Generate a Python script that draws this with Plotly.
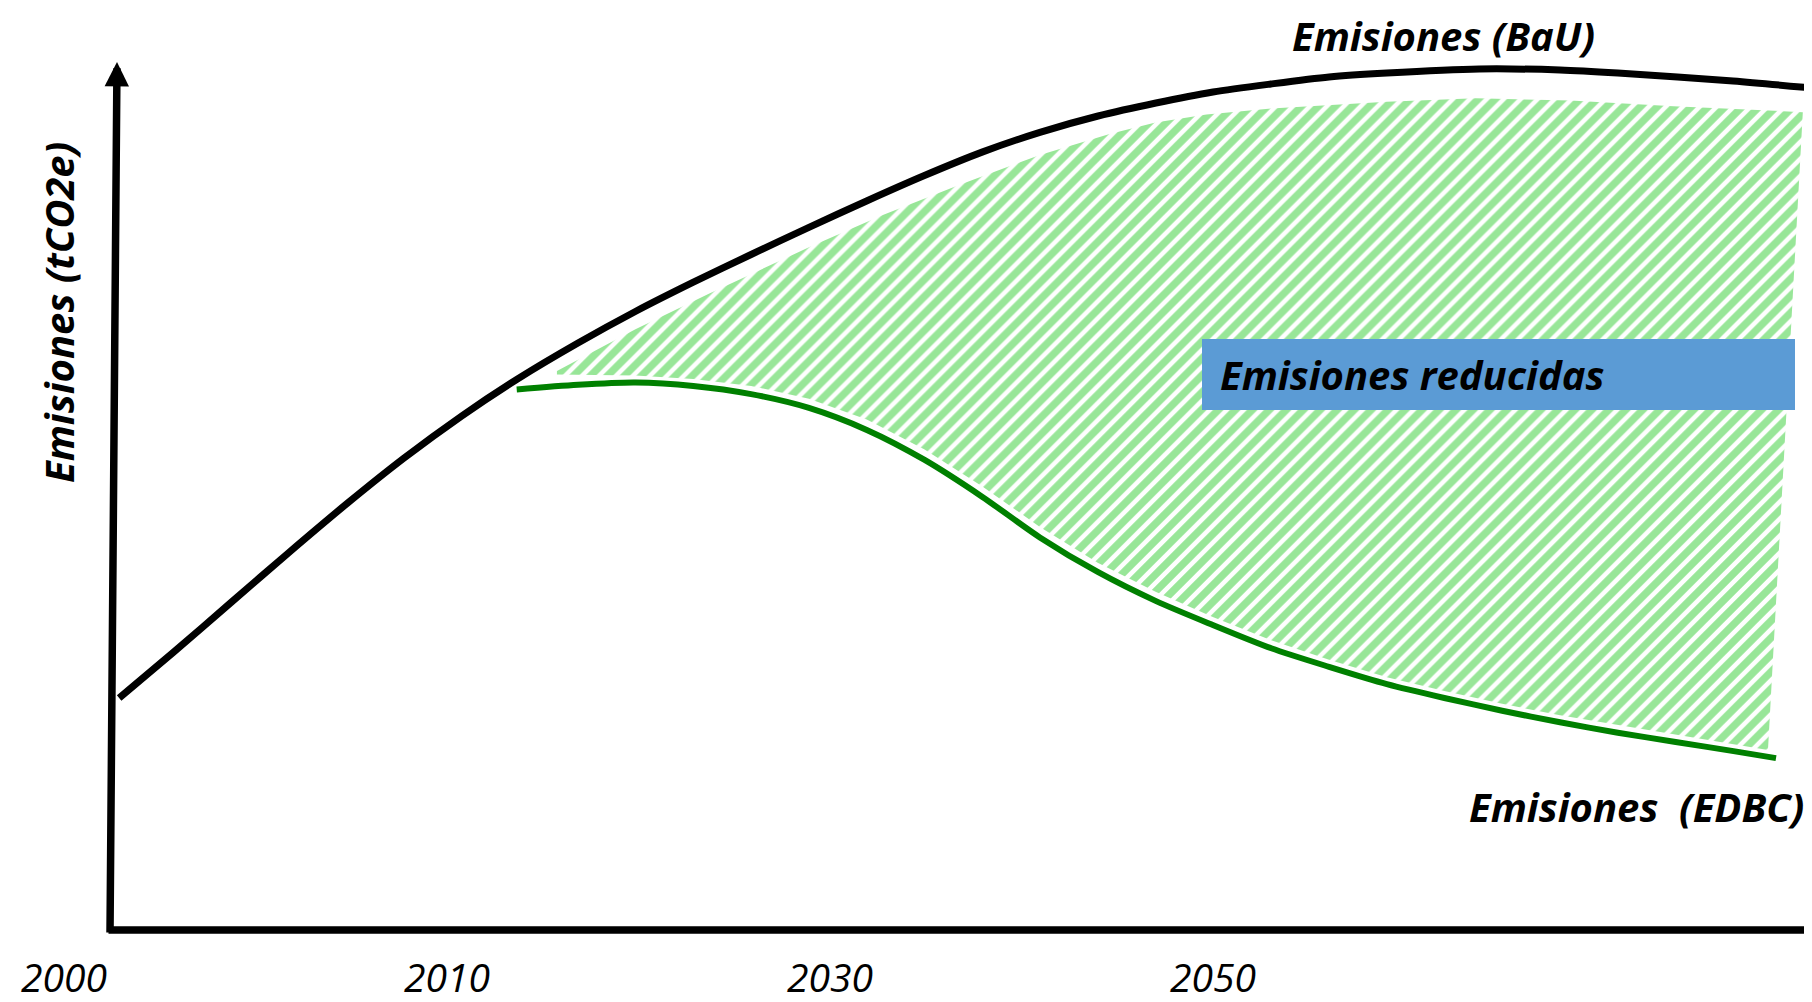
import plotly.graph_objects as go

# ---------------- data (chart units) ----------------
# time axis position: 0 = 2000, 1 = 2010, 2 = 2030, 3 = 2050 (as labelled)
tick_pos = [0, 1, 2, 3]
tick_labels = ["2000", "2010", "2030", "2050"]

# Emissions, Business as usual (BaU)
bau_t = [0.144, 0.285, 0.436, 0.587, 0.739, 0.888, 1.039, 1.183, 1.342, 1.493, 1.642,
         1.794, 1.945, 2.097, 2.245, 2.397, 2.548, 2.700, 2.851, 3.000, 3.151, 3.303,
         3.454, 3.695, 3.906, 4.057, 4.358, 4.590]
bau_e = [26.98, 32.27, 38.08, 43.89, 49.59, 54.88, 59.79, 64.04, 68.25, 71.95, 75.30,
         78.55, 81.70, 84.80, 87.70, 90.45, 92.75, 94.65, 96.16, 97.44, 98.37, 99.19,
         99.65, 100.12, 100.00, 99.65, 98.72, 97.79]

# Emissions, EDBC scenario
edbc_t = [1.182, 1.342, 1.492, 1.643, 1.794, 1.945, 2.096, 2.247, 2.398, 2.548, 2.699,
          2.850, 3.001, 3.152, 3.303, 3.454, 3.604, 3.755, 3.906, 4.057, 4.208, 4.359,
          4.470]
edbc_e = [62.86, 63.40, 63.66, 63.26, 62.31, 60.71, 58.15, 54.66, 50.36, 45.65, 41.63,
          38.27, 35.44, 32.76, 30.60, 28.59, 26.98, 25.50, 24.15, 22.94, 21.87, 20.80,
          19.99]

# Reduced-emissions band (hatched area): upper and lower edges
red_top_t = [1.287, 1.492, 1.685, 1.945, 2.138, 2.337, 2.548, 2.730, 2.850, 2.983, 3.152,
             3.454, 3.686, 3.933, 4.202, 4.540]
red_top_e = [65.01, 69.85, 74.01, 79.38, 83.15, 86.64, 90.13, 92.56, 93.90, 94.84, 95.51,
             96.31, 96.72, 96.45, 95.78, 95.10]
red_bot_t = [1.287, 1.492, 1.643, 1.794, 1.945, 2.096, 2.247, 2.398, 2.548, 2.699, 2.850,
             3.001, 3.152, 3.303, 3.454, 3.604, 3.755, 3.906, 4.057, 4.208, 4.359, 4.449]
red_bot_e = [64.60, 64.47, 64.07, 63.26, 61.78, 59.36, 55.87, 51.57, 46.87, 42.70, 39.34,
             36.38, 33.70, 31.42, 29.40, 27.79, 26.30, 24.97, 23.76, 22.67, 21.60, 20.93]

# ---------------- layout helpers (reference pixel -> axis units, decorations only) --------
OFF_X = 8  # page offset of the plot div (HTML body margin)
OFF_Y = 8


def px_x(p):
    return (p - 64) / 383.0


def px_y(p):
    return (930 - p) / 8.6


W, H, B = 1812, 1002, 58
FONT = "Open Sans"

fig = go.Figure()

# hatched area
poly_t = red_top_t + red_bot_t[::-1]
poly_e = red_top_e + red_bot_e[::-1]
fig.add_trace(go.Scatter(
    x=poly_t, y=poly_e, mode="lines", fill="toself",
    line=dict(width=0, color="rgba(0,0,0,0)"),
    fillcolor="white",
    fillpattern=dict(shape="/", fgcolor="#32CD32", bgcolor="white", size=12, solidity=0.62),
    hoverinfo="skip",
))

fig.add_trace(go.Scatter(
    x=edbc_t, y=edbc_e, mode="lines",
    line=dict(color="#008000", width=6, shape="spline", smoothing=0.8),
))

fig.add_trace(go.Scatter(
    x=bau_t, y=bau_e, mode="lines",
    line=dict(color="black", width=7, shape="spline", smoothing=0.8),
))

annotations = [
    # axis arrows
    dict(x=px_x(117), y=px_y(62), ax=px_x(110), ay=px_y(934), xref="x", yref="y",
         axref="x", ayref="y", text="", showarrow=True, arrowhead=2, arrowsize=0.65,
         arrowwidth=7.5, arrowcolor="black", standoff=0),
    dict(x=px_x(1830), y=px_y(930), ax=px_x(107), ay=px_y(930), xref="x", yref="y",
         axref="x", ayref="y", text="", showarrow=True, arrowhead=2, arrowsize=0.65,
         arrowwidth=7.5, arrowcolor="black", standoff=0),
    # labels
    dict(x=px_x(1443), y=px_y(35), xref="x", yref="y", text="Emisiones (BaU)",
         showarrow=False, xanchor="center", yanchor="middle",
         font=dict(family=FONT, size=40, color="black", weight="bold", style="italic")),
    dict(x=px_x(1806), y=px_y(806), xref="x", yref="y", text="Emisiones\u00a0 (EDBC)",
         showarrow=False, xanchor="right", yanchor="middle",
         font=dict(family=FONT, size=40, color="black", weight="bold", style="italic")),
    dict(x=px_x(1218), y=px_y(374), xref="x", yref="y", text="Emisiones reducidas",
         showarrow=False, xanchor="left", yanchor="middle",
         font=dict(family=FONT, size=40, color="black", weight="bold", style="italic")),
    dict(x=px_x(58), y=px_y(313), xref="x", yref="y", text="Emisiones (tCO2e)",
         showarrow=False, textangle=-90, xanchor="center", yanchor="middle",
         font=dict(family=FONT, size=40, color="black", weight="bold", style="italic")),
]

shapes = [
    dict(type="rect", xref="x", yref="y", x0=px_x(1202), x1=px_x(1795),
         y0=px_y(410), y1=px_y(339), fillcolor="#5B9BD5", line=dict(width=0), layer="above"),
]

fig.update_layout(
    width=W, height=H,
    margin=dict(l=0, r=0, t=0, b=B, autoexpand=False),
    paper_bgcolor="white", plot_bgcolor="white",
    showlegend=False,
    annotations=annotations,
    shapes=shapes,
    xaxis=dict(range=[px_x(OFF_X), px_x(OFF_X + W)], tickmode="array", tickvals=tick_pos,
               ticktext=tick_labels, showgrid=False, zeroline=False, showline=False,
               ticks="", automargin=False,
               tickfont=dict(family=FONT, size=39, color="black", style="italic"),
               fixedrange=True),
    yaxis=dict(range=[px_y(OFF_Y + H - B), px_y(OFF_Y)], visible=False, showgrid=False,
               zeroline=False, automargin=False, fixedrange=True),
)

fig.write_html("out.html")
